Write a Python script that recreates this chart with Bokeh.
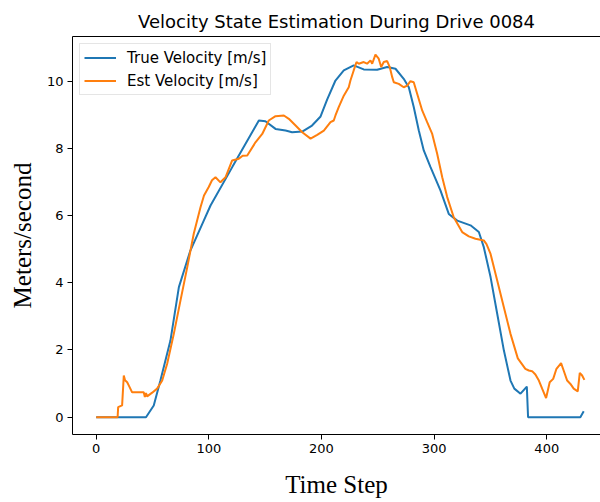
from bokeh.plotting import figure
from bokeh.models import Range1d, LinearAxis, FixedTicker, Legend, LegendItem
from bokeh.embed import file_html
from bokeh.resources import INLINE

# ---- data ----
true_t = [0, 44.2, 51.1, 57.0, 65.9, 73.4, 83.6, 95.5, 101.5, 120.9, 144.4, 150.2, 159.2,
          168.1, 173.9, 182.9, 191.6, 199.2, 205.0, 212.4, 219.8, 228.6, 237.5, 249.4,
          258.3, 265.7, 273.0, 277.5, 281.9, 286.4, 290.8, 296.8, 305.6, 313.0, 320.5,
          332.3, 339.7, 344.1, 350.1, 356.0, 361.9, 367.8, 371.2, 376.7, 382.3, 383.4,
          429.8, 432.8]
true_v = [0, 0, 0.35, 1.09, 2.28, 3.87, 4.96, 5.85, 6.3, 7.45, 8.83, 8.81, 8.58,
          8.53, 8.48, 8.5, 8.68, 8.95, 9.45, 10.02, 10.32, 10.47, 10.35, 10.34,
          10.42, 10.37, 10.07, 9.82, 9.23, 8.53, 7.94, 7.44, 6.75, 6.05, 5.85,
          5.71, 5.51, 5.06, 4.17, 3.08, 1.99, 1.09, 0.85, 0.70, 0.91, 0,
          0, 0.18]

est_t = [0, 19.0, 19.5, 23.0, 24.5, 25.6, 27.5, 29.0, 31.9, 42.2, 43.2, 44.2, 45.2, 49.7,
         54.1, 58.6, 63.0, 68.9, 74.8, 80.8, 86.6, 92.6, 95.7, 99.9, 102.8, 105.9, 110.3,
         114.8, 120.7, 126.6, 130.0, 134.1, 141.4, 147.4, 153.2, 159.2, 166.6, 171.0,
         177.0, 182.9, 190.3, 196.2, 202.1, 208.0, 210.9, 212.4, 215.3, 219.8, 224.2,
         225.7, 228.6, 231.1, 233.1, 237.5, 240.5, 243.5, 245.0, 247.9, 250.8, 253.0,
         255.3, 258.3, 260.6, 262.8, 264.2, 268.6, 273.0, 276.1, 279.0, 281.9, 285.0,
         289.4, 293.8, 298.3, 302.7, 307.2, 311.6, 317.4, 324.9, 330.8, 336.7, 344.1,
         346.5, 350.1, 356.0, 361.9, 367.8, 374.3, 381.0, 384.1, 387.0, 389.9, 393.0,
         395.9, 399.4, 402.6, 405.7, 408.6, 412.7, 415.0, 418.1, 421.0, 423.9, 427.5,
         429.3, 431.4, 433.4]
est_v = [0, 0, 0.3, 0.35, 1.24, 1.1, 1.04, 0.94, 0.74, 0.74, 0.6, 0.72, 0.62, 0.73,
         0.85, 1.09, 1.59, 2.48, 3.47, 4.46, 5.46, 6.25, 6.6, 6.85, 7.05, 7.14, 6.99,
         7.14, 7.64, 7.69, 7.78, 7.79, 8.18, 8.43, 8.83, 8.96, 8.98, 8.88,
         8.68, 8.48, 8.29, 8.4, 8.53, 8.78, 8.83, 8.98, 9.23, 9.57, 9.82,
         10.02, 10.32, 10.57, 10.52, 10.57, 10.52, 10.62, 10.52, 10.79, 10.67, 10.42,
         10.57, 10.6, 10.42, 10.12, 9.97, 9.92, 9.82, 9.87, 10.0, 9.97, 9.62,
         9.13, 8.78, 8.43, 7.84, 7.14, 6.55, 5.95, 5.51, 5.38, 5.31, 5.26,
         5.15, 4.86, 4.07, 3.27, 2.48, 1.75, 1.44, 1.39, 1.37, 1.27, 1.09,
         0.85, 0.57, 1.04, 1.14, 1.44, 1.61, 1.39, 1.09, 0.99, 0.85, 0.77,
         1.32, 1.24, 1.11]

x_ticks = [0, 100, 200, 300, 400]
y_ticks = [0, 2, 4, 6, 8, 10]

title_text = "Velocity State Estimation During Drive 0084"
x_label = "Time Step"
y_label = "Meters/second"
labels = ["True Velocity [m/s]", "Est Velocity [m/s]"]
colors = ["#1f77b4", "#ff7f0e"]

p = figure(width=600, height=502, output_backend="svg", toolbar_location=None,
           x_range=Range1d(-21.04, 447.7), y_range=Range1d(-0.515, 11.33),
           min_border_left=72, min_border_right=0, min_border_top=36, min_border_bottom=68,
           title=title_text)

p.outline_line_color = None
p.grid.grid_line_color = None
p.background_fill_color = "white"
p.border_fill_color = "white"

p.title.text_font = "DejaVu Sans"
p.title.text_font_size = "18px"
p.title.text_font_style = "normal"
p.title.text_color = "black"
p.title.align = "center"
p.title.offset = 4

for ax in (p.xaxis[0], p.yaxis[0]):
    ax.axis_line_color = "black"
    ax.axis_line_width = 1
    ax.major_tick_line_color = "black"
    ax.major_tick_out = 5
    ax.major_tick_in = 0
    ax.minor_tick_line_color = None
    ax.major_label_text_font = "DejaVu Sans"
    ax.major_label_text_font_size = "13px"
    ax.major_label_text_color = "black"
    ax.major_label_standoff = 4
    ax.axis_label_text_font = "Liberation Serif"
    ax.axis_label_text_font_size = "25px"
    ax.axis_label_text_font_style = "normal"
    ax.axis_label_text_color = "black"

p.xaxis[0].ticker = FixedTicker(ticks=x_ticks)
p.yaxis[0].ticker = FixedTicker(ticks=y_ticks)
p.xaxis[0].axis_label = x_label
p.yaxis[0].axis_label = y_label
p.xaxis[0].axis_label_standoff = 15
p.yaxis[0].axis_label_standoff = 8

top = LinearAxis(ticker=FixedTicker(ticks=[]), axis_line_color="black",
                 major_tick_line_color=None, minor_tick_line_color=None,
                 major_label_standoff=0)
p.add_layout(top, "above")

r1 = p.line(true_t, true_v, line_color=colors[0], line_width=2)
r2 = p.line(est_t, est_v, line_color=colors[1], line_width=2)

legend = Legend(items=[LegendItem(label=labels[0], renderers=[r1]),
                       LegendItem(label=labels[1], renderers=[r2])],
                location="top_left")
legend.margin = 7
legend.padding = 4
legend.spacing = 4
legend.glyph_width = 32
legend.glyph_height = 19
legend.label_height = 19
legend.label_standoff = 11
legend.label_text_font = "DejaVu Sans"
legend.label_text_font_size = "15px"
legend.label_text_color = "black"
legend.border_line_color = "#cccccc"
legend.border_line_width = 1
legend.background_fill_color = "white"
legend.background_fill_alpha = 0.8
p.add_layout(legend)

open("out.html", "w").write(file_html(p, INLINE))
